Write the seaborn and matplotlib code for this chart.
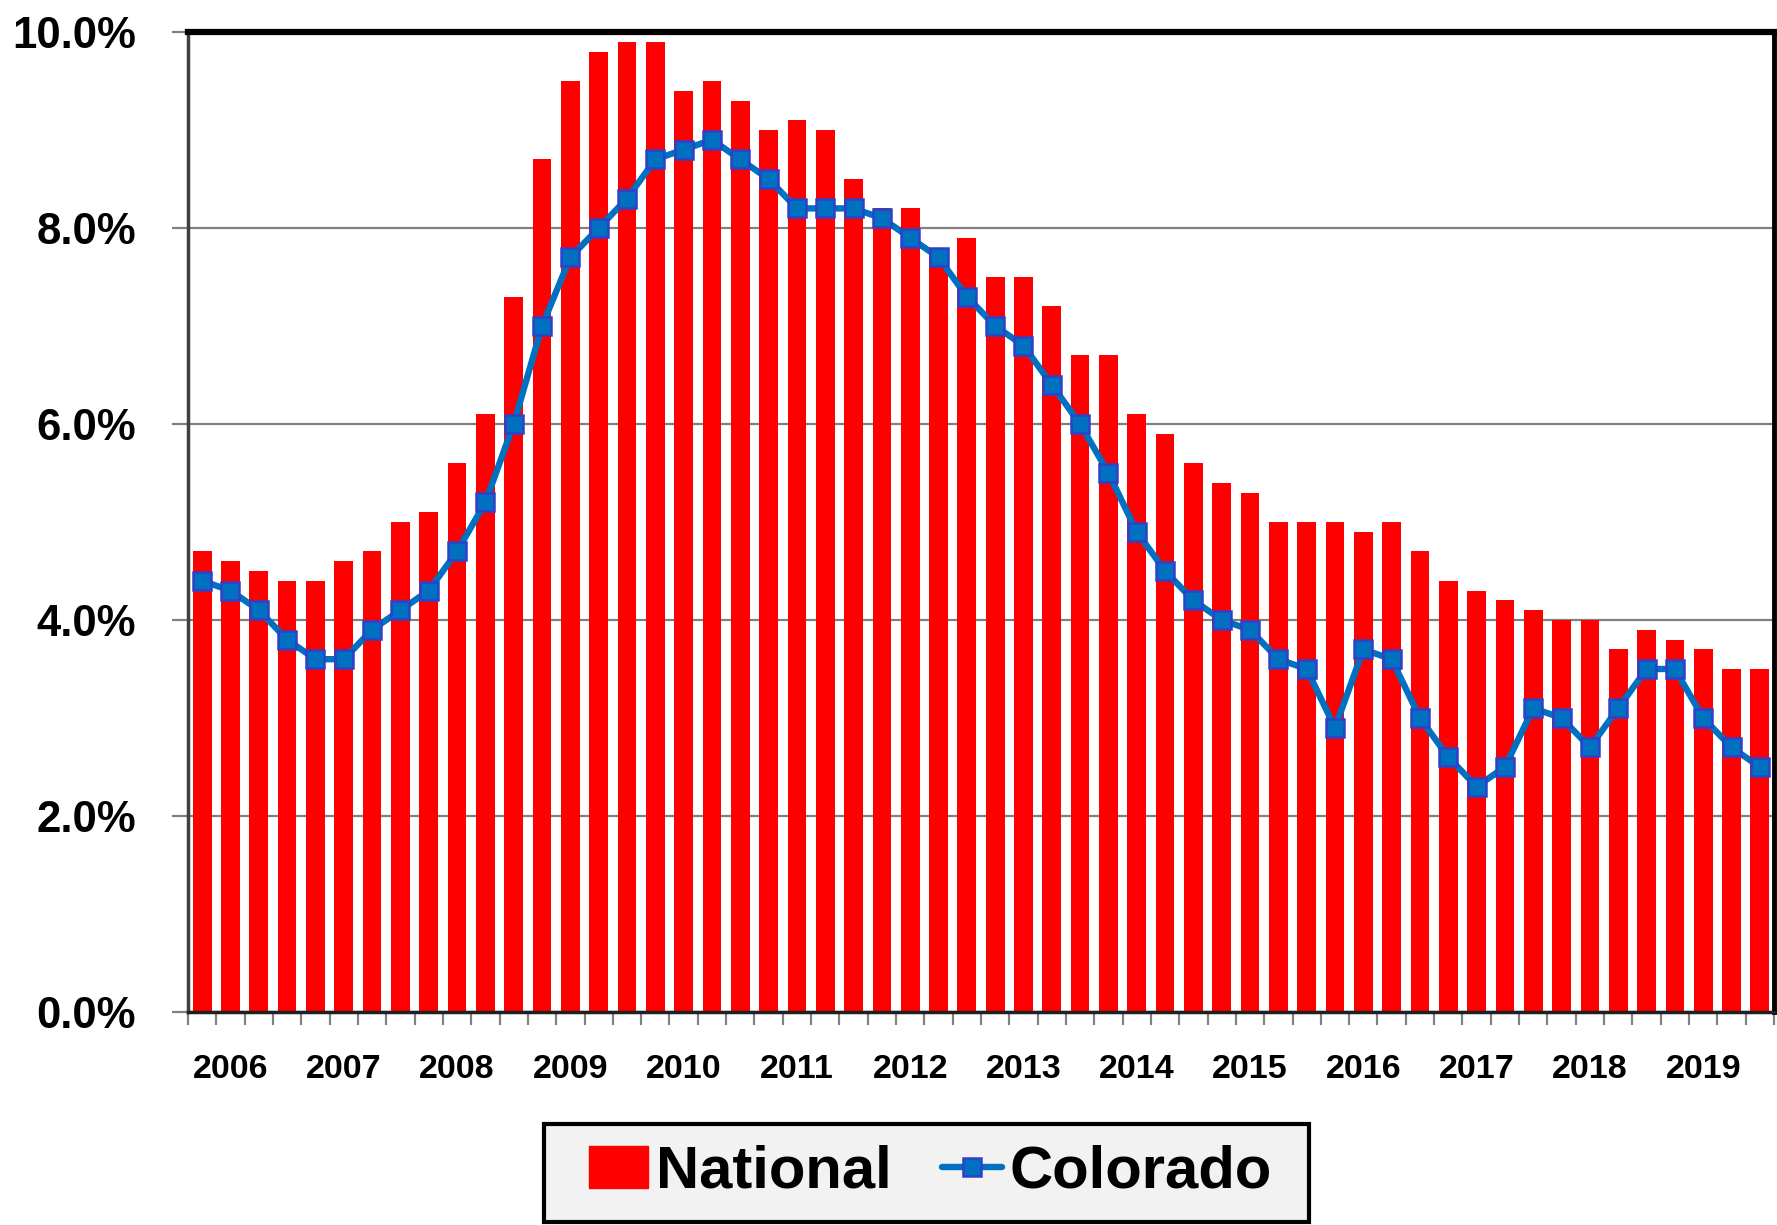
import numpy as np
import pandas as pd
import matplotlib
matplotlib.use("Agg")
import matplotlib.pyplot as plt
from matplotlib.patches import Patch, Rectangle
from matplotlib.lines import Line2D
from matplotlib.ticker import FixedLocator, FuncFormatter
import seaborn as sns

years = [str(y) for y in range(2006, 2020)]
quarters = [f"{y} Q{q}" for y in years for q in range(1, 5)]

national = [4.7, 4.6, 4.5, 4.4,
            4.4, 4.6, 4.7, 5.0,
            5.1, 5.6, 6.1, 7.3,
            8.7, 9.5, 9.8, 9.9,
            9.9, 9.4, 9.5, 9.3,
            9.0, 9.1, 9.0, 8.5,
            8.2, 8.2, 7.8, 7.9,
            7.5, 7.5, 7.2, 6.7,
            6.7, 6.1, 5.9, 5.6,
            5.4, 5.3, 5.0, 5.0,
            5.0, 4.9, 5.0, 4.7,
            4.4, 4.3, 4.2, 4.1,
            4.0, 4.0, 3.7, 3.9,
            3.8, 3.7, 3.5, 3.5]

colorado = [4.4, 4.3, 4.1, 3.8,
            3.6, 3.6, 3.9, 4.1,
            4.3, 4.7, 5.2, 6.0,
            7.0, 7.7, 8.0, 8.3,
            8.7, 8.8, 8.9, 8.7,
            8.5, 8.2, 8.2, 8.2,
            8.1, 7.9, 7.7, 7.3,
            7.0, 6.8, 6.4, 6.0,
            5.5, 4.9, 4.5, 4.2,
            4.0, 3.9, 3.6, 3.5,
            2.9, 3.7, 3.6, 3.0,
            2.6, 2.3, 2.5, 3.1,
            3.0, 2.7, 3.1, 3.5,
            3.5, 3.0, 2.7, 2.5]

yticks = [0, 2, 4, 6, 8, 10]

df = pd.DataFrame({"quarter": quarters, "National": national, "Colorado": colorado})
df["pos"] = np.arange(len(df))

sns.set_theme(style="white")
plt.rcParams["font.family"] = ["Liberation Sans", "DejaVu Sans"]
plt.rcParams["font.weight"] = "bold"
plt.rcParams["text.color"] = "black"

W, H = 1777, 1225
fig = plt.figure(figsize=(W / 100, H / 100), dpi=100)
ax = fig.add_axes([188 / W, 1 - 1012 / H, (1774 - 188) / W, (1012 - 32) / H])

RED = "#FF0000"
BLUE = "#0070C0"
EDGE = "#3040C8"

sns.barplot(data=df, x="quarter", y="National", order=quarters, color=RED,
            width=0.66, saturation=1, linewidth=0, ax=ax, zorder=2)
sns.lineplot(data=df, x="pos", y="Colorado", color=BLUE, linewidth=4.6,
             marker="s", markersize=12.5, markerfacecolor=BLUE,
             markeredgecolor=EDGE, markeredgewidth=1.8, ax=ax, zorder=3)

ax.set_xlim(-0.5, len(quarters) - 0.5)
ax.set_ylim(0, 10)
ax.set_xlabel("")
ax.set_ylabel("")

# y axis
ax.yaxis.set_major_locator(FixedLocator(yticks))
ax.yaxis.set_major_formatter(FuncFormatter(lambda v, p: f"{v:.1f}%"))
ax.grid(axis="y", color="#808080", linewidth=1.6, zorder=0)
ax.set_axisbelow(True)
ax.tick_params(axis="y", which="major", left=True, length=11.5, width=1.6,
               color="#808080", pad=26, labelsize=31.5, labelcolor="black")

# x axis: labels under second quarter of each year, ticks at boundaries
label_pos = [4 * i + 1 for i in range(len(years))]
ax.xaxis.set_major_locator(FixedLocator(label_pos))
ax.set_xticklabels(years)
ax.xaxis.set_minor_locator(FixedLocator(np.arange(-0.5, len(quarters), 1.0)))
ax.tick_params(axis="x", which="major", bottom=True, length=0, pad=30,
               labelsize=24.5, labelcolor="black")
ax.tick_params(axis="x", which="minor", bottom=True, length=9, width=1.6,
               color="#808080")
for lab in ax.get_xticklabels() + ax.get_yticklabels():
    lab.set_fontweight("bold")

for side, lw, col in [("top", 4.5, "black"), ("right", 3.5, "black"),
                      ("left", 2.5, "#404040"), ("bottom", 2.5, "#202020")]:
    ax.spines[side].set_visible(True)
    ax.spines[side].set_color(col)
    ax.spines[side].set_linewidth(lw)

# legend box
box = Rectangle((544 / W, 1 - 1222 / H), (1309 - 544) / W, (1222 - 1124) / H,
                transform=fig.transFigure, facecolor="#F2F2F2",
                edgecolor="black", linewidth=3, zorder=0)
fig.patches.append(box)

handles = [Patch(facecolor=RED, edgecolor=RED),
           Line2D([0], [0], color=BLUE, linewidth=4.6, marker="s",
                  markersize=13, markerfacecolor=BLUE, markeredgecolor=EDGE,
                  markeredgewidth=1.8)]
leg = fig.legend(handles, ["National", "Colorado"], loc="center",
                 bbox_to_anchor=(930 / W, 1 - 1172 / H), ncol=2, frameon=False,
                 prop={"size": 43, "weight": "bold"}, handlelength=1.0,
                 handleheight=0.7, handletextpad=0.12, columnspacing=0.85,
                 borderpad=0.1, labelcolor="black")

fig.savefig("out.png", dpi=100)
